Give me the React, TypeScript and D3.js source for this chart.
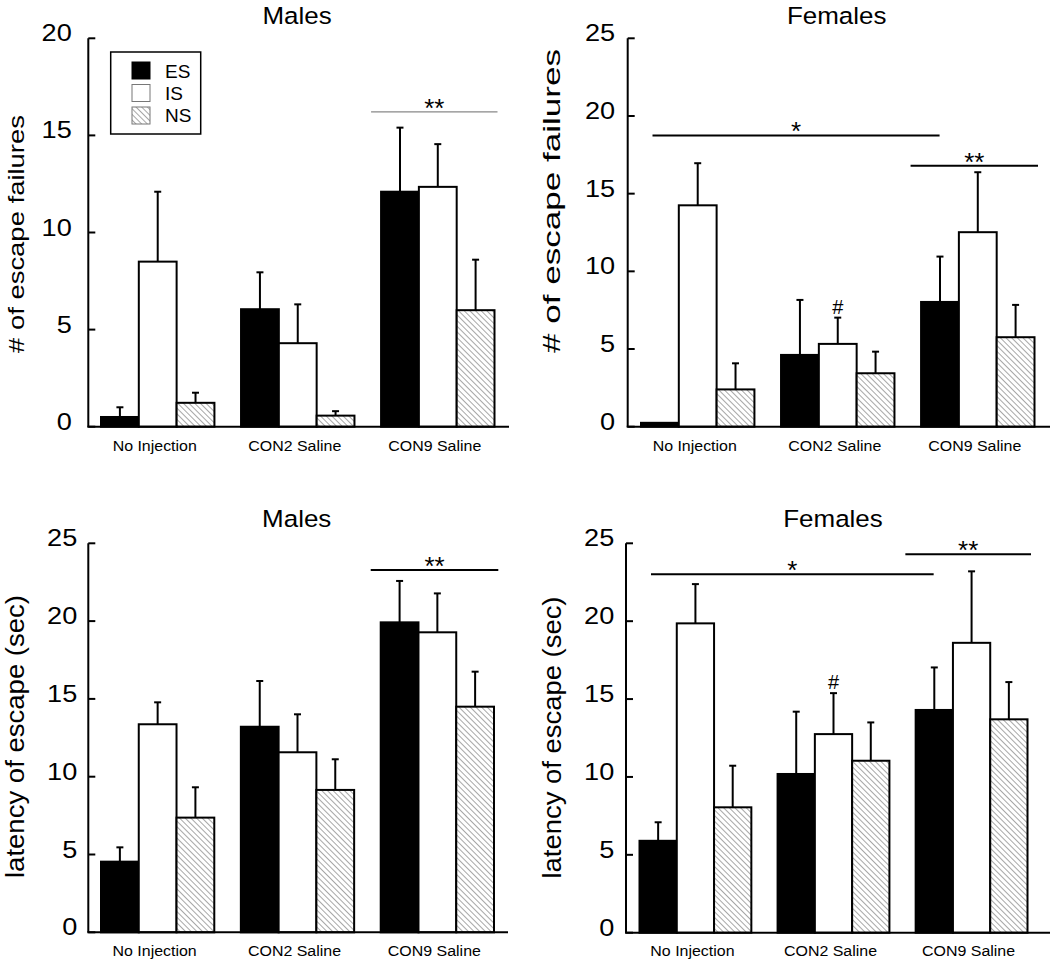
import React from "react";
import * as d3 from "d3";

const categories = ["No Injection", "CON2 Saline", "CON9 Saline"];
const seriesNames = ["ES", "IS", "NS"];

const ticks20 = [0, 5, 10, 15, 20];
const ticks25 = [0, 5, 10, 15, 20, 25];

// rows = series (ES, IS, NS), columns = categories
const malesFailuresMean = [
  [0.5, 6.05, 12.1],
  [8.5, 4.3, 12.35],
  [1.23, 0.57, 6.0],
];
const malesFailuresSem = [
  [0.5, 1.9, 3.3],
  [3.6, 2.0, 2.2],
  [0.52, 0.23, 2.6],
];
const femalesFailuresMean = [
  [0.25, 4.62, 8.03],
  [14.25, 5.33, 12.52],
  [2.4, 3.44, 5.76],
];
const femalesFailuresSem = [
  [0, 3.54, 2.92],
  [2.71, 1.69, 3.86],
  [1.68, 1.39, 2.08],
];
const malesLatencyMean = [
  [4.54, 13.21, 19.92],
  [13.37, 11.57, 19.28],
  [7.37, 9.15, 14.5],
];
const malesLatencySem = [
  [0.92, 2.94, 2.66],
  [1.41, 2.44, 2.5],
  [1.95, 1.97, 2.25],
];
const femalesLatencyMean = [
  [5.9, 10.19, 14.3],
  [19.86, 12.75, 18.61],
  [8.05, 11.04, 13.7],
];
const femalesLatencySem = [
  [1.19, 4.0, 2.73],
  [2.52, 2.63, 4.59],
  [2.67, 2.46, 2.39],
];

// significance lines: level in data units
const malesFailuresSig = [
  { from: ["CON9 Saline", "start", -10], to: ["CON9 Saline", "end", 3], level: 16.21, label: "**" },
];
const femalesFailuresSig = [
  { from: ["No Injection", "start", 11.5], to: ["CON9 Saline", "start", 18.5], level: 18.75, label: "*" },
  { from: ["CON9 Saline", "start", -10.5], to: ["CON9 Saline", "end", 3.5], level: 16.8, label: "**" },
];
const malesLatencySig = [
  { from: ["CON9 Saline", "start", -10], to: ["CON9 Saline", "end", 4.3], level: 23.28, label: "**" },
];
const femalesLatencySig = [
  { from: ["No Injection", "start", 11.5], to: ["CON9 Saline", "start", 18], level: 23.02, label: "*" },
  { from: ["CON9 Saline", "start", -10.3], to: ["CON9 Saline", "end", 3.5], level: 24.29, label: "**" },
];
const hashMarks = [{ cat: "CON2 Saline", series: "IS", label: "#" }];

const FONT = "Arial, 'Liberation Sans', Helvetica, sans-serif";

type Cfg = {
  title: string;
  yLabel: string;
  yMax: number;
  ticks: number[];
  axisX: number;
  xRange: [number, number];
  yRange: [number, number];
  baselineEnd: number;
  titleX: number;
  titleY: number;
  yLabelX: number;
  yLabelY: number;
  yLabelSize: number;
  yLabelLen: number;
  tickGap: number;
  xLabelY: number;
  sigStroke: string;
  sigWidth: number;
};

function Panel({ cfg, means, sems, sigs, marks, legend }: any) {
  const c: Cfg = cfg;
  const x0 = d3.scaleBand<string>().domain(categories).range(c.xRange).paddingInner(0.19).paddingOuter(0);
  const x1 = d3.scaleBand<string>().domain(seriesNames).range([0, x0.bandwidth()]);
  const y = d3.scaleLinear().domain([0, c.yMax]).range(c.yRange);
  const fills = ["#000", "#fff", "url(#hatch)"];
  const anchorX = (a: any[]) => {
    const [cat, side, off] = a;
    const s = x0(cat)!;
    return (side === "start" ? s : s + x0.bandwidth()) + off;
  };
  return (
    <g>
      <text
        transform={`translate(${c.titleX},${c.titleY}) scale(1.06,1)`}
        textAnchor="middle"
        fontSize={24.5}
        fontFamily={FONT}
      >
        {c.title}
      </text>
      <text
        transform={`translate(${c.yLabelX},${c.yLabelY}) rotate(-90)`}
        textAnchor="middle"
        dominantBaseline="central"
        fontSize={c.yLabelSize}
        fontFamily={FONT}
        textLength={c.yLabelLen}
        lengthAdjust="spacingAndGlyphs"
      >
        {c.yLabel}
      </text>
      {/* bars */}
      {seriesNames.map((s, si) =>
        categories.map((cat, ci) => {
          const v = means[si][ci];
          const bx = x0(cat)! + x1(s)!;
          return (
            <rect
              key={s + cat}
              x={bx}
              y={y(v)}
              width={x1.bandwidth()}
              height={y(0) - y(v)}
              fill={fills[si]}
              stroke="#000"
              strokeWidth={2}
            />
          );
        })
      )}
      {/* error bars */}
      {seriesNames.map((s, si) =>
        categories.map((cat, ci) => {
          const v = means[si][ci];
          const e = sems[si][ci];
          if (!e) return null;
          const cx = x0(cat)! + x1(s)! + x1.bandwidth() / 2;
          return (
            <g key={"e" + s + cat} stroke="#000" strokeWidth={2}>
              <line x1={cx} x2={cx} y1={y(v)} y2={y(v + e)} />
              <line x1={cx - 3.5} x2={cx + 3.5} y1={y(v + e)} y2={y(v + e)} />
            </g>
          );
        })
      )}
      {/* axes */}
      <line x1={c.axisX} x2={c.axisX} y1={y(0)} y2={y(c.yMax)} stroke="#000" strokeWidth={2} />
      <line x1={c.axisX - 1} x2={c.baselineEnd} y1={y(0)} y2={y(0)} stroke="#000" strokeWidth={2} />
      {c.ticks.map((t) => (
        <g key={"t" + t}>
          <line x1={c.axisX} x2={c.axisX + 7} y1={y(t)} y2={y(t)} stroke="#000" strokeWidth={2} />
          <text
            transform={`translate(${c.axisX - c.tickGap},${y(t) + 3}) scale(1.18,1)`}
            textAnchor="end"
            fontSize={23}
            fontFamily={FONT}
          >
            {t}
          </text>
        </g>
      ))}
      {categories.map((cat) => (
        <text
          key={"xl" + cat}
          transform={`translate(${x0(cat)! + x0.bandwidth() / 2 - 3},${c.xLabelY}) scale(1.1,1)`}
          textAnchor="middle"
          fontSize={14.5}
          fontFamily={FONT}
        >
          {cat}
        </text>
      ))}
      {/* significance */}
      {sigs.map((sg: any, i: number) => {
        const xa = anchorX(sg.from);
        const xb = anchorX(sg.to);
        const ly = y(sg.level);
        return (
          <g key={"s" + i}>
            <line x1={xa} x2={xb} y1={ly} y2={ly} stroke={c.sigStroke} strokeWidth={c.sigWidth} />
            <text x={(xa + xb) / 2} y={ly + 5} textAnchor="middle" fontSize={26} fontFamily={FONT}>
              {sg.label}
            </text>
          </g>
        );
      })}
      {marks.map((m: any, i: number) => {
        const si = seriesNames.indexOf(m.series);
        const ci = categories.indexOf(m.cat);
        const cx = x0(m.cat)! + x1(m.series)! + x1.bandwidth() / 2;
        const top = y(means[si][ci] + sems[si][ci]);
        return (
          <text key={"m" + i} x={cx} y={top - 4} textAnchor="middle" fontSize={20} fontFamily={FONT}>
            {m.label}
          </text>
        );
      })}
      {legend && (
        <g>
          <rect x={110.7} y={52} width={90} height={82} fill="#fff" stroke="#000" strokeWidth={1.5} />
          {seriesNames.map((s, i) => (
            <g key={"lg" + s}>
              <rect
                x={132}
                y={62 + i * 22.5}
                width={18}
                height={17}
                fill={fills[i]}
                stroke={i === 0 ? "#000" : "#777"}
                strokeWidth={1}
              />
              <text x={165} y={78.3 + i * 22} fontSize={19} fontFamily={FONT}>
                {s}
              </text>
            </g>
          ))}
        </g>
      )}
    </g>
  );
}

const cfgTL: Cfg = {
  title: "Males", yLabel: "# of escape failures", yMax: 20, ticks: ticks20, axisX: 88.3,
  xRange: [101, 494.5], yRange: [426.7, 38.3], baselineEnd: 509, titleX: 297, titleY: 23.5,
  yLabelX: 16, yLabelY: 234, yLabelSize: 22, yLabelLen: 238, tickGap: 16.5, xLabelY: 451,
  sigStroke: "#888", sigWidth: 1.2,
};
const cfgTR: Cfg = {
  title: "Females", yLabel: "# of escape failures", yMax: 25, ticks: ticks25, axisX: 627.7,
  xRange: [641, 1034.5], yRange: [426.7, 38.3], baselineEnd: 1050, titleX: 836.7, titleY: 23.5,
  yLabelX: 551.7, yLabelY: 201, yLabelSize: 24, yLabelLen: 304, tickGap: 12.5, xLabelY: 451,
  sigStroke: "#000", sigWidth: 2,
};
const cfgBL: Cfg = {
  title: "Males", yLabel: "latency of escape (sec)", yMax: 25, ticks: ticks25, axisX: 88.3,
  xRange: [101, 494], yRange: [932.3, 543.3], baselineEnd: 508, titleX: 296.7, titleY: 527,
  yLabelX: 14.5, yLabelY: 736.5, yLabelSize: 26, yLabelLen: 283, tickGap: 11, xLabelY: 956,
  sigStroke: "#000", sigWidth: 2,
};
const cfgBR: Cfg = {
  title: "Females", yLabel: "latency of escape (sec)", yMax: 25, ticks: ticks25, axisX: 626,
  xRange: [639.5, 1027.5], yRange: [932.7, 543.3], baselineEnd: 1050, titleX: 833, titleY: 527,
  yLabelX: 551.7, yLabelY: 737.5, yLabelSize: 26, yLabelLen: 282, tickGap: 11.7, xLabelY: 956,
  sigStroke: "#000", sigWidth: 2,
};

export default function App() {
  return (
    <svg
      width={1050}
      height={960}
      style={{ position: "absolute", left: 0, top: 0, background: "#fff" }}
    >
      <defs>
        <pattern id="hatch" patternUnits="userSpaceOnUse" width={4} height={4} patternTransform="rotate(-45)">
          <rect width={4} height={4} fill="#fff" />
          <line x1={0} y1={0} x2={0} y2={4} stroke="#777" strokeWidth={1.3} />
        </pattern>
      </defs>
      <rect width={1050} height={960} fill="#fff" />
      <Panel cfg={cfgTL} means={malesFailuresMean} sems={malesFailuresSem} sigs={malesFailuresSig} marks={[]} legend />
      <Panel cfg={cfgTR} means={femalesFailuresMean} sems={femalesFailuresSem} sigs={femalesFailuresSig} marks={hashMarks} />
      <Panel cfg={cfgBL} means={malesLatencyMean} sems={malesLatencySem} sigs={malesLatencySig} marks={[]} />
      <Panel cfg={cfgBR} means={femalesLatencyMean} sems={femalesLatencySem} sigs={femalesLatencySig} marks={hashMarks} />
    </svg>
  );
}
